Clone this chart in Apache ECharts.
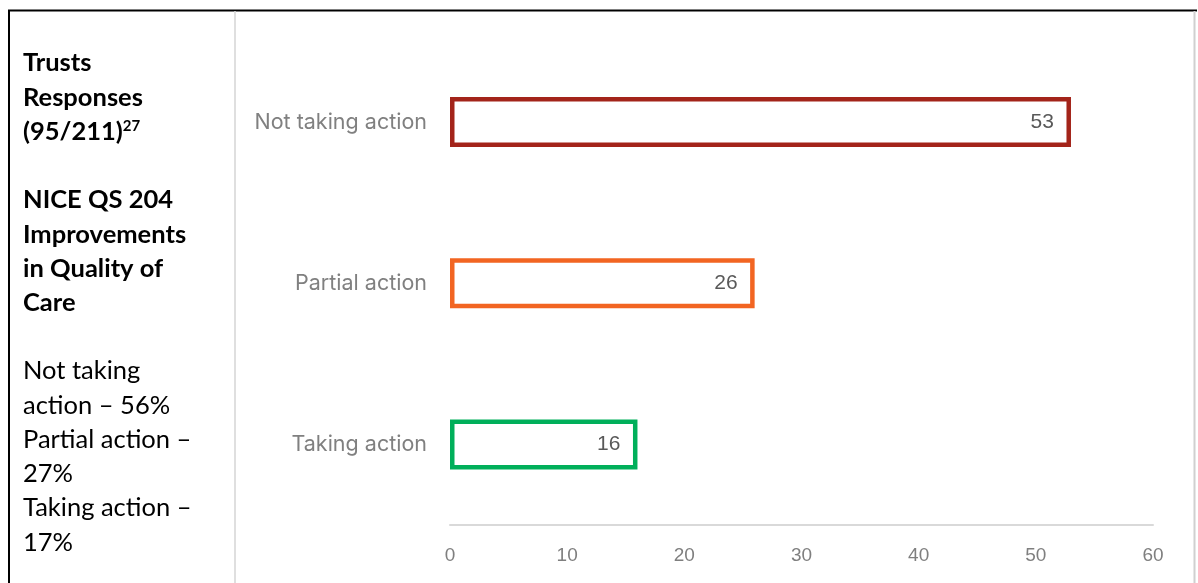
<!DOCTYPE html>
<html>
<head>
<meta charset="utf-8">
<script src="https://cdn.jsdelivr.net/npm/echarts@6/dist/echarts.min.js"></script>
<style>
html,body{margin:0;padding:0;background:#fff;}
#chart{width:1198px;height:583px;}
</style>
</head>
<body>
<div id="chart"></div>
<script>
const categories = ['Not taking action', 'Partial action', 'Taking action'];
const values = [53, 26, 16];
const barColors = ['#A3241A', '#F26522', '#00AF5A'];
const xTicks = [0, 10, 20, 30, 40, 50, 60];
const sideHeading1 = ['Trusts', 'Responses', '{b|(95/211)}{sup|27}'];
const sideHeading2 = ['NICE QS 204', 'Improvements', 'in Quality of', 'Care'];
const sideBody = ['Not taking', 'action – 56%', 'Partial action –', '27%', 'Taking action –', '17%'];

const chart = echarts.init(document.getElementById('chart'));
const sideFont = 'Lato, "Open Sans", sans-serif';

const graphics = [
  {type:'line', shape:{x1:8, y1:10.5, x2:1197, y2:10.5}, style:{stroke:'#000', lineWidth:2}, z:10},
  {type:'line', shape:{x1:9, y1:10, x2:9, y2:583}, style:{stroke:'#000', lineWidth:2}, z:10},
  {type:'line', shape:{x1:235, y1:11, x2:235, y2:583}, style:{stroke:'#d4d4d4', lineWidth:1.5}, z:10},
  {type:'line', shape:{x1:1194.5, y1:11, x2:1194.5, y2:583}, style:{stroke:'#d0d0d0', lineWidth:2}, z:10}
];
const lh = 34.3;
const fs = 25.5;
function addLines(lines, y0, bold) {
  lines.forEach((t, i) => {
    graphics.push({
      type:'text', x:23, y:y0 + i*lh,
      style:{
        text:t, fill:'#000', font:(bold?'bold ':'') + fs + 'px ' + sideFont,
        verticalAlign:'middle', align:'left',
        rich: bold ? {
          b:{fontSize:fs, fontWeight:'bold', fontFamily:sideFont, fill:'#000'},
          sup:{fontSize:15, fontWeight:'bold', fontFamily:sideFont, fill:'#000', verticalAlign:'top', padding:[0,0,11,0]}
        } : undefined
      }
    });
  });
}
addLines(sideHeading1, 63, true);
addLines(sideHeading2, 200, true);
addLines(sideBody, 371, false);

chart.setOption({
  animation:false,
  backgroundColor:'#fff',
  grid:{left:450, right:45, top:41.5, bottom:58, containLabel:false},
  xAxis:{
    type:'value', min:0, max:60, interval:10,
    axisLine:{show:true, lineStyle:{color:'#d9d9d9', width:2}},
    axisTick:{show:false},
    splitLine:{show:false},
    axisLabel:{
      color:'#7f7f7f', fontSize:19, fontFamily:'"Liberation Sans", Arial, sans-serif', margin:21,
      formatter:(v)=> xTicks.includes(v) ? String(v) : ''
    }
  },
  yAxis:{
    type:'category', data:categories, inverse:true,
    axisLine:{show:false}, axisTick:{show:false},
    axisLabel:{color:'#808080', fontSize:21.5, fontFamily:'Inter, "Open Sans", sans-serif', margin:23}
  },
  series:[{
    type:'bar',
    data:values.map((v,i)=>({value:v, itemStyle:{color:'#fff', borderColor:barColors[i], borderWidth:4.5}})),
    barWidth:50,
    label:{show:true, position:'insideRight', distance:17, color:'#595959', fontSize:21,
      fontFamily:'"Liberation Sans", Arial, sans-serif'}
  }],
  graphic:graphics
});
</script>
</body>
</html>
